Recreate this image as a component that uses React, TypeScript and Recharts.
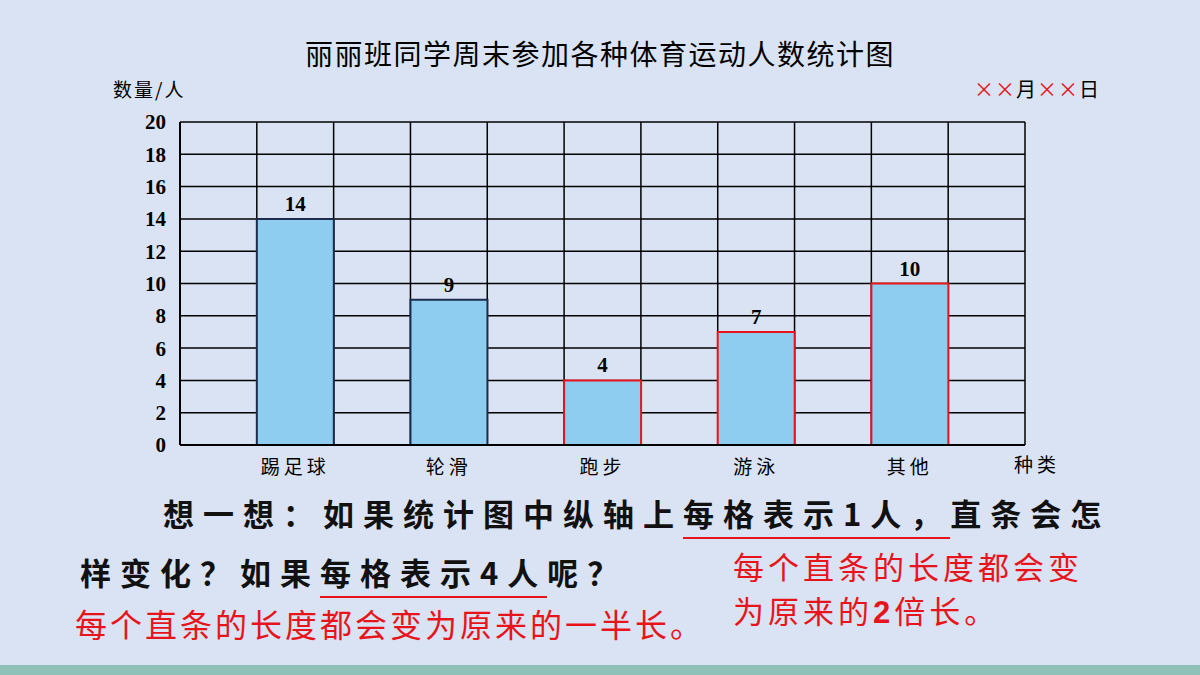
import React from "react";
import { BarChart, Bar, XAxis, YAxis, CartesianGrid, Cell, LabelList } from "recharts";

const categories = ["踢足球", "轮滑", "跑步", "游泳", "其他"];
const counts = [14, 9, 4, 7, 10];
const yTicks = [0, 2, 4, 6, 8, 10, 12, 14, 16, 18, 20];
const gridTicks = [0, 1, 2, 3, 4, 5, 6, 7, 8, 9, 10, 11];

// each category sits in every other grid column, empty columns between
const table = [
  ...categories.flatMap((name, i) => [
    { name: "", value: null as number | null, slot: i * 2 + 0.5 },
    { name, value: counts[i] as number | null, slot: i * 2 + 1.5 },
  ]),
  { name: "", value: null as number | null, slot: categories.length * 2 + 0.5 },
];

const BG = "#dae3f3";
const FILL = "#8ecdf0";
const DARK = "#1c2c4c";
const RED = "#e8141b";
const firstRedBar = 2;

const serif = "'Liberation Serif', 'DejaVu Serif', serif";
const cjk = "'Noto Sans CJK SC', sans-serif";

const outlineFor = (row: number) => {
  const barIndex = (row - 1) / 2;
  return barIndex >= firstRedBar ? RED : DARK;
};

const ValueLabel = (props: any) => {
  const { x, y, width, value, index } = props;
  if (value == null) return null;
  return (
    <text
      x={x + width / 2}
      y={y - 8}
      textAnchor="middle"
      fontFamily={serif}
      fontWeight={700}
      fontSize={21}
      fill={outlineFor(index) === RED ? RED : "#000"}
    >
      {value}
    </text>
  );
};

const CategoryTick = (props: any) => {
  const { x, y, payload } = props;
  if (!payload.value) return null;
  return (
    <text x={x} y={y} dy="0.9em" textAnchor="middle" fontFamily={cjk} fontSize={19} letterSpacing={4} fill="#000">
      {payload.value}
    </text>
  );
};

const underline: React.CSSProperties = {
  borderBottom: `2px solid ${RED}`,
  paddingBottom: 2,
};

export default function App() {
  return (
    <div
      style={{
        position: "fixed",
        left: 0,
        top: 0,
        width: 1200,
        height: 675,
        background: BG,
        overflow: "hidden",
        fontFamily: cjk,
      }}
    >
      <div style={{ position: "absolute", left: 0, top: 0 }}>
        <BarChart
          width={1200}
          height={675}
          data={table}
          margin={{ top: 122, right: 175, bottom: 200, left: 120 }}
          barCategoryGap={0}
        >
          <CartesianGrid xAxisId="grid" stroke="#000" strokeWidth={1.5} fill="none" />
          <XAxis xAxisId="grid" type="number" dataKey="slot" domain={[0, 11]} ticks={gridTicks} hide />
          <XAxis
            xAxisId="cat"
            dataKey="name"
            interval={0}
            height={30}
            tickLine={false}
            axisLine={{ stroke: "#000", strokeWidth: 2 }}
            tickMargin={6}
            tick={<CategoryTick />}
          />
          <YAxis
            width={60}
            domain={[0, 20]}
            ticks={yTicks}
            tickLine={false}
            axisLine={{ stroke: "#000", strokeWidth: 2 }}
            tickMargin={8}
            tick={{ fill: "#000", fontSize: 21, fontWeight: 700, fontFamily: serif }}
          />
          <Bar xAxisId="cat" dataKey="value" fill={FILL} strokeWidth={2} isAnimationActive={false}>
            {table.map((_, i) => (
              <Cell key={i} stroke={outlineFor(i)} />
            ))}
            <LabelList dataKey="value" content={ValueLabel} />
          </Bar>
        </BarChart>
      </div>

      <div style={{ position: "absolute", left: 0, width: 1200, top: 34, textAlign: "center", fontSize: 28, letterSpacing: 1.5, lineHeight: "38px", color: "#000" }}>
        丽丽班同学周末参加各种体育运动人数统计图
      </div>
      <div style={{ position: "absolute", left: 113, top: 75, fontSize: 19, letterSpacing: 2, color: "#000" }}>数量/人</div>
      <div style={{ position: "absolute", left: 974, top: 74, fontSize: 20, letterSpacing: 1, color: "#000" }}>
        <span style={{ color: RED }}>××</span>月<span style={{ color: RED }}>××</span>日
      </div>
      <div style={{ position: "absolute", left: 1014, top: 450, fontSize: 19, letterSpacing: 4, color: "#000" }}>种类</div>

      <div style={{ position: "absolute", left: 163, top: 490, fontSize: 31, fontWeight: 700, letterSpacing: 9, color: "#111", whiteSpace: "nowrap" }}>
        想一想：如果统计图中纵轴上<span style={underline}>每格表示1人，</span>直条会怎
      </div>
      <div style={{ position: "absolute", left: 80, top: 549, fontSize: 31, fontWeight: 700, letterSpacing: 9, color: "#111", whiteSpace: "nowrap" }}>
        样变化？如果<span style={underline}>每格表示4人</span>呢？
      </div>
      <div style={{ position: "absolute", left: 75, top: 605, fontSize: 32, lineHeight: "36px", letterSpacing: 3, color: RED, whiteSpace: "nowrap" }}>
        每个直条的长度都会变为原来的一半长。
      </div>
      <div style={{ position: "absolute", left: 733, top: 548, fontSize: 31, lineHeight: "36px", letterSpacing: 4, color: RED, whiteSpace: "nowrap" }}>
        每个直条的长度都会变
      </div>
      <div style={{ position: "absolute", left: 733, top: 592, fontSize: 31, lineHeight: "36px", letterSpacing: 4, color: RED, whiteSpace: "nowrap" }}>
        为原来的<b style={{ fontFamily: "'Liberation Sans', sans-serif" }}>2</b>倍长。
      </div>

      <div style={{ position: "absolute", left: 0, top: 665, width: 1200, height: 10, background: "#8fc1b8" }} />
    </div>
  );
}
